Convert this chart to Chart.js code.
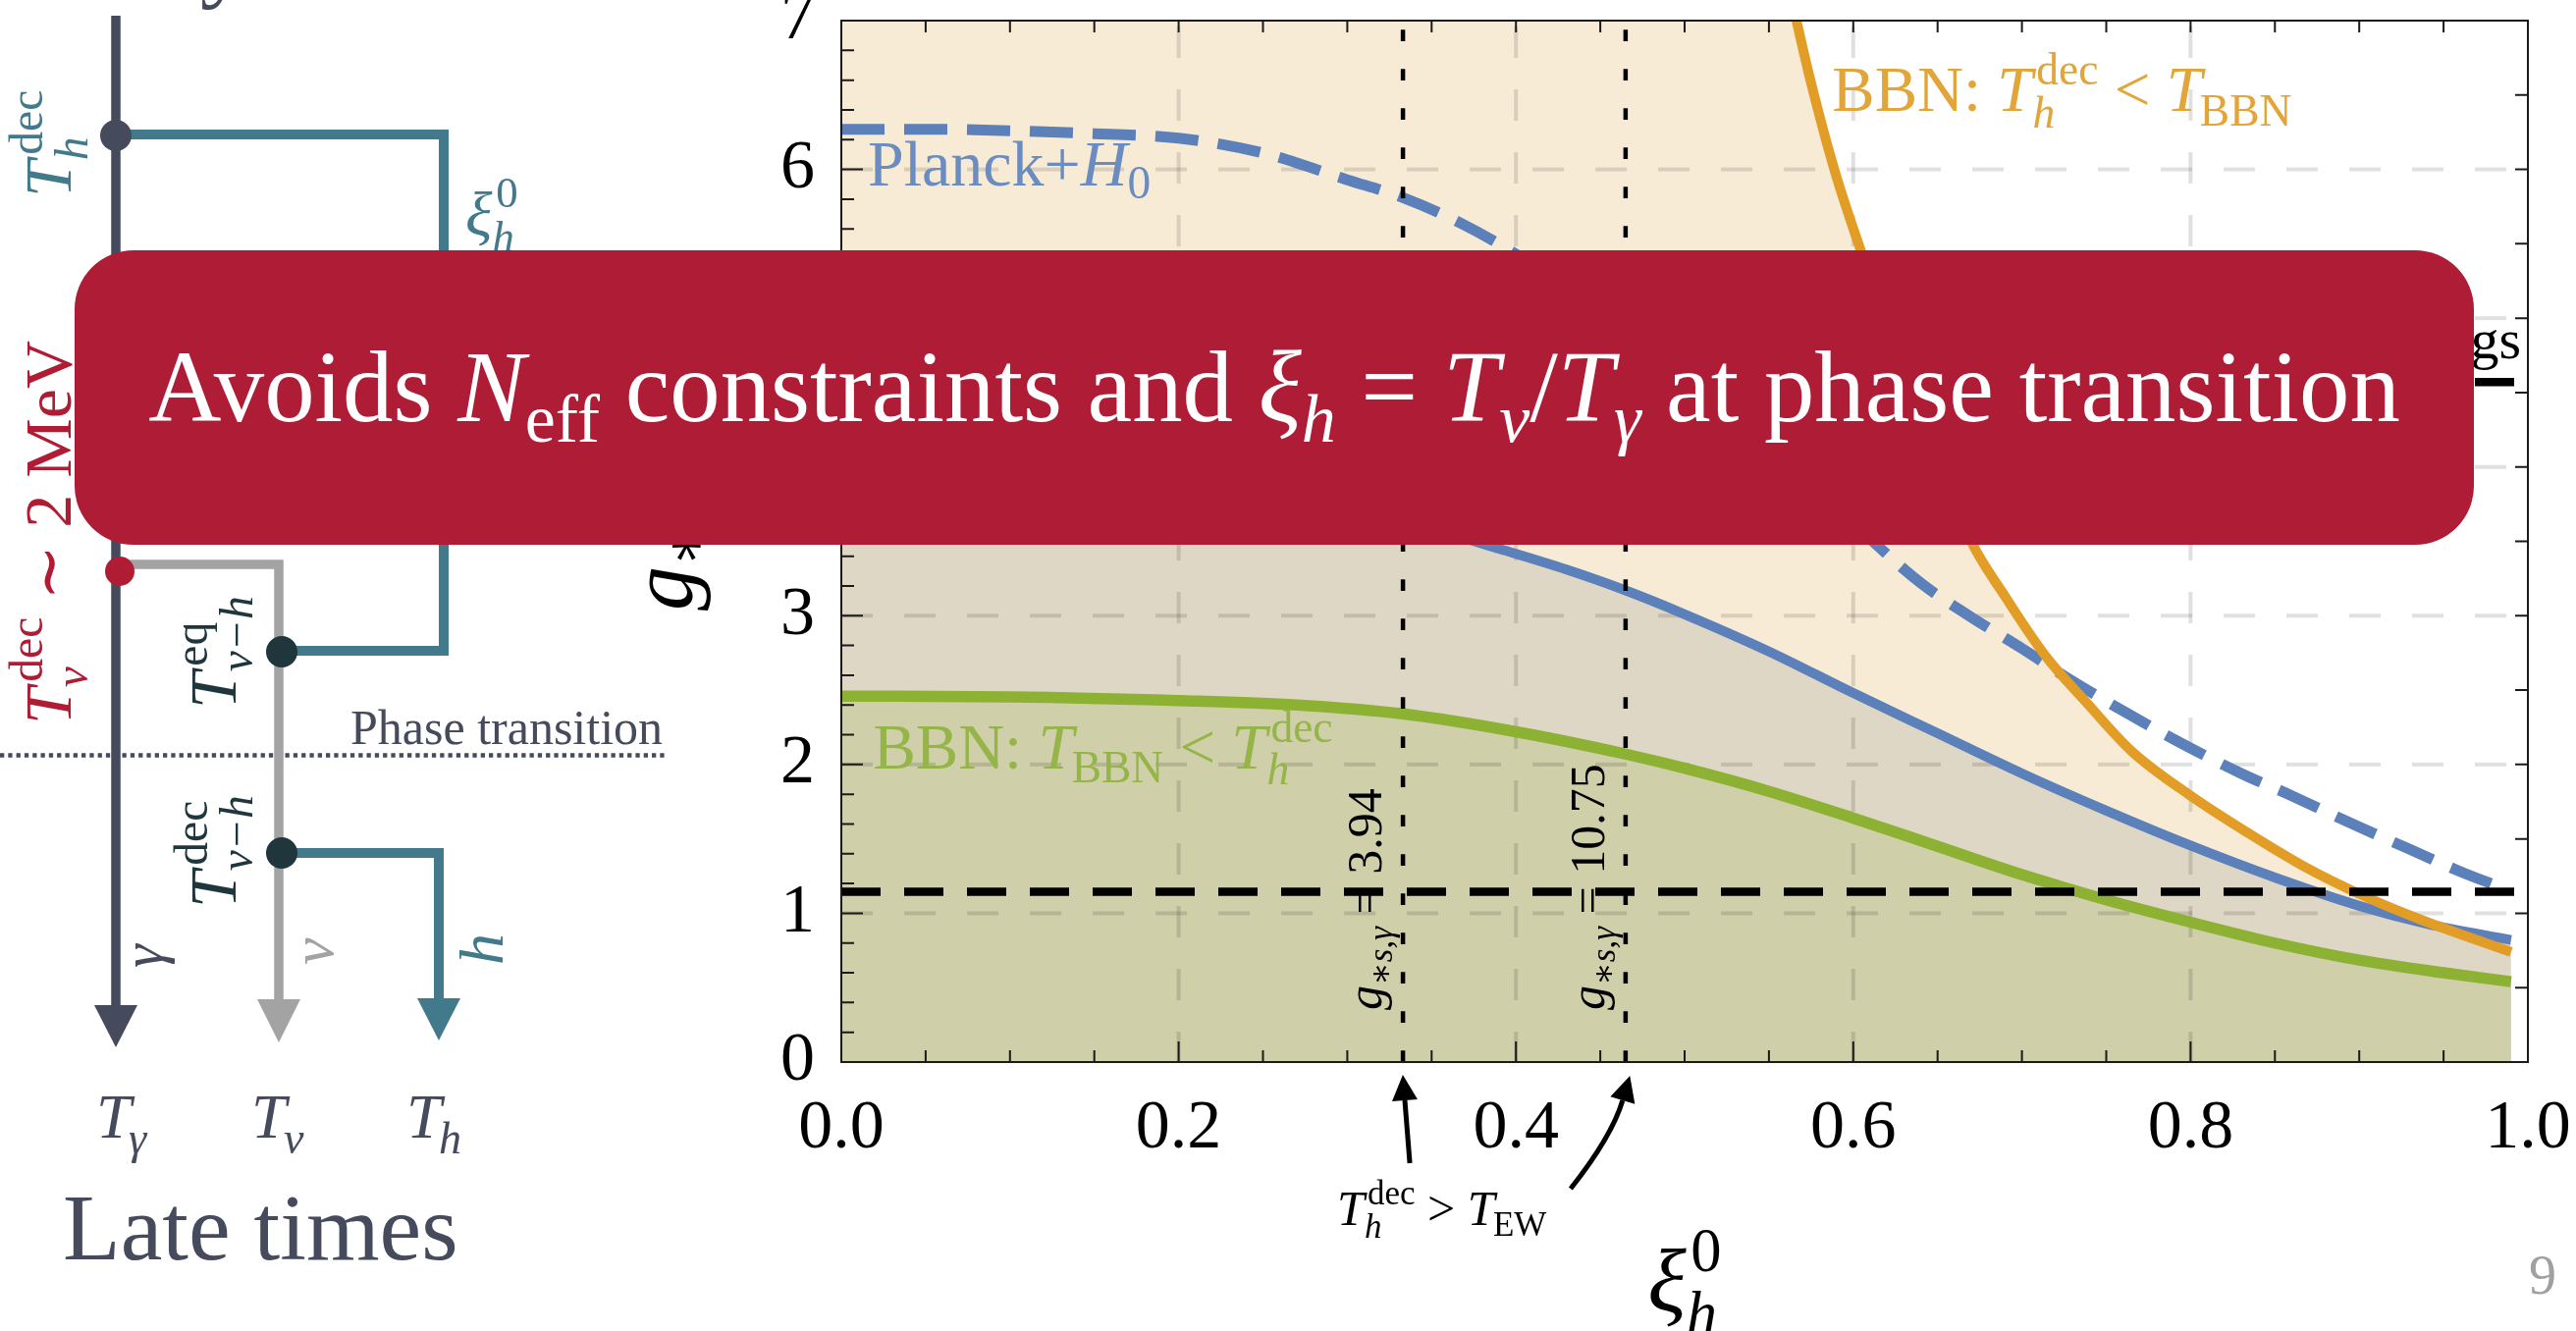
<!DOCTYPE html>
<html>
<head>
<meta charset="utf-8">
<script src="https://cdn.jsdelivr.net/npm/chart.js@4.4.1/dist/chart.umd.min.js"></script>
<style>
  html, body { margin: 0; padding: 0; background: #ffffff; }
  body { width: 2624px; height: 1356px; position: relative; overflow: hidden; }
  #wrap { position: absolute; left: 0; top: 0; width: 2624px; height: 1356px; }
  #callout {
    position: absolute; left: 76px; top: 255px; width: 2444px; height: 300px;
    background: #ae1c35; border-radius: 60px;
    display: flex; align-items: center; justify-content: center;
    color: #ffffff; font-family: "Liberation Serif", "DejaVu Serif", serif; white-space: nowrap;
  }
  #callout .t { display: inline-block; transform: translateY(-11px); }
  #callout i { font-style: italic; }
  #callout sub { font-size: 0.68em; vertical-align: -0.3em; line-height: 0; }
</style>
</head>
<body>
<div id="wrap"><canvas id="c"></canvas></div>
<div id="callout"><span class="t" id="calloutText">Avoids <i>N</i><sub>eff</sub> constraints and <i>ξ</i><sub><i>h</i></sub> = <i>T</i><sub><i>ν</i></sub>/<i>T</i><sub><i>γ</i></sub> at phase transition</span></div>
<script>
// ---- data: g_* bounds versus xi_h^0 ----
const xiTickValues = [0, 0.2, 0.4, 0.6, 0.8, 1.0];
const xiTickLabels = ['0.0', '0.2', '0.4', '0.6', '0.8', '1.0'];
const gTickValues = [0, 1, 2, 3, 4, 5, 6, 7];
const gTickLabels = ['0', '1', '2', '3', '4', '5', '6', '7'];

// Planck + H0 (dashed)
const planckH0Xi = [0, 0.05, 0.1, 0.15, 0.2, 0.25, 0.3, 0.333, 0.367, 0.4, 0.45, 0.5, 0.55, 0.6, 0.64, 0.67, 0.7, 0.73, 0.76, 0.79, 0.83, 0.86, 0.9, 0.93, 0.96, 0.985];
const planckH0G  = [6.27, 6.27, 6.26, 6.24, 6.21, 6.11, 5.93, 5.81, 5.64, 5.43, 5.05, 4.62, 4.15, 3.62, 3.22, 2.99, 2.78, 2.56, 2.36, 2.17, 1.94, 1.79, 1.58, 1.43, 1.28, 1.17];

// Planck (solid)
const planckXi = [0, 0.05, 0.1, 0.15, 0.2, 0.25, 0.3, 0.36, 0.39, 0.43, 0.465, 0.5, 0.55, 0.6, 0.65, 0.7, 0.75, 0.8, 0.85, 0.9, 0.94, 0.99];
const planckG  = [3.91, 3.91, 3.90, 3.89, 3.86, 3.80, 3.70, 3.55, 3.45, 3.31, 3.17, 3.01, 2.76, 2.48, 2.21, 1.94, 1.69, 1.455, 1.24, 1.05, 0.93, 0.82];

// BBN: T_h^dec < T_BBN (orange)
const bbnHighXi = [0.5655, 0.575, 0.589, 0.604, 0.62, 0.635, 0.65, 0.669, 0.69, 0.714, 0.738, 0.765, 0.8, 0.834, 0.868, 0.9, 0.937, 0.99];
const bbnHighG  = [7.04, 6.58, 5.99, 5.47, 4.97, 4.52, 4.08, 3.52, 3.13, 2.73, 2.42, 2.09, 1.79, 1.54, 1.31, 1.13, 0.955, 0.74];

// BBN: T_BBN < T_h^dec (green)
const bbnLowXi = [0, 0.1, 0.2, 0.27, 0.333, 0.4, 0.465, 0.5, 0.55, 0.6, 0.65, 0.7, 0.75, 0.8, 0.85, 0.9, 0.95, 0.99];
const bbnLowG  = [2.46, 2.455, 2.43, 2.40, 2.34, 2.22, 2.07, 1.975, 1.82, 1.64, 1.45, 1.26, 1.09, 0.94, 0.80, 0.685, 0.60, 0.54];

// reference levels and decoupling markers
const gRefLevels = [1.144, 4.57];
const decXi = [0.333, 0.465];
const decLabels = ['3.94', '10.75'];

const G_MAX = 7;
const XI_MAX = 1;

// ---- styling ----
const SERIF = '"Liberation Serif", "DejaVu Serif", "Times New Roman", serif';
const BLUE = '#5c80b9', ORANGE = '#e29d26', GREEN = '#8db133';
const SLATE = '#454a5d', TEAL = '#427a8c', DKTEAL = '#1f363d', RED = '#b01c34', GREY = '#a3a3a3';

// Rich text: parts = [text, italic, scale, dy(em), stackOnPrevious, dx(em)]
function rich(ctx, parts, x, y, size, color, align, rot) {
  ctx.save();
  ctx.translate(x, y);
  if (rot) ctx.rotate(rot);
  ctx.fillStyle = color;
  ctx.textBaseline = 'alphabetic';
  ctx.textAlign = 'left';
  const items = [];
  let cur = 0, prevStart = 0;
  for (const p of parts) {
    const t = p[0], it = p[1], sc = p[2] ?? 1, dy = p[3] ?? 0, stack = p[4] ?? false, dx = p[5] ?? 0;
    const font = (it ? 'italic ' : '') + (size * sc).toFixed(1) + 'px ' + SERIF;
    ctx.font = font;
    const w = ctx.measureText(t).width;
    const start = stack ? prevStart : cur;
    const sx = start + dx * size;
    items.push({ t, font, x: sx, y: dy * size });
    cur = Math.max(cur, sx + w);
    prevStart = start;
  }
  const off = align === 'center' ? -cur / 2 : align === 'right' ? -cur : 0;
  for (const it of items) { ctx.font = it.font; ctx.fillText(it.t, it.x + off, it.y); }
  ctx.restore();
  return cur;
}

function arrowHead(ctx, bx, by, ux, uy, len, hw, color) {
  const n = Math.hypot(ux, uy); ux /= n; uy /= n;
  const px = -uy, py = ux;
  ctx.beginPath();
  ctx.moveTo(bx + px * hw, by + py * hw);
  ctx.lineTo(bx - px * hw, by - py * hw);
  ctx.lineTo(bx + ux * len, by + uy * len);
  ctx.closePath();
  ctx.fillStyle = color;
  ctx.fill();
}

// Left-hand schematic of the temperature histories
function drawSchematic(ctx) {
  ctx.save();
  ctx.lineCap = 'butt';
  ctx.lineJoin = 'miter';
  const poly = (pts, color, w) => {
    ctx.beginPath();
    ctx.moveTo(pts[0][0], pts[0][1]);
    for (let i = 1; i < pts.length; i++) ctx.lineTo(pts[i][0], pts[i][1]);
    ctx.strokeStyle = color; ctx.lineWidth = w; ctx.stroke();
  };
  const dot = (x, y, r, color) => { ctx.beginPath(); ctx.arc(x, y, r, 0, Math.PI * 2); ctx.fillStyle = color; ctx.fill(); };

  ctx.setLineDash([4.3, 4]);
  poly([[0, 769.5], [679, 769.5]], SLATE, 4.5);
  ctx.setLineDash([]);

  poly([[118, 16], [118, 1026]], SLATE, 9.5);
  arrowHead(ctx, 118, 1024, 0, 1, 43, 22, SLATE);
  poly([[118, 137], [452, 137], [452, 663], [287, 663]], TEAL, 10);
  poly([[121, 575], [284, 575], [284, 1020]], GREY, 9.5);
  arrowHead(ctx, 284, 1018, 0, 1, 44, 22, GREY);
  poly([[287, 869], [447, 869], [447, 1019]], TEAL, 10);
  arrowHead(ctx, 447, 1017, 0, 1, 43, 22, TEAL);

  dot(118, 138, 16, SLATE);
  dot(287, 664, 16, DKTEAL);
  dot(287, 869, 16, DKTEAL);
  dot(122, 582, 15, RED);

  const up = -Math.PI / 2;
  rich(ctx, [['T', 1], ['dec', 0, 0.7, -0.42, 0, 0.08], ['h', 1, 0.7, 0.25, 1, 0]], 72, 201, 68, TEAL, 'left', up);
  rich(ctx, [['T', 1], ['dec', 0, 0.7, -0.42, 0, 0.08], ['ν', 1, 0.7, 0.25, 1, 0], [' ∼ 2 MeV', 0]], 72, 738, 68, RED, 'left', up);
  rich(ctx, [['T', 1], ['eq', 0, 0.7, -0.42, 0, 0.08], ['ν−h', 1, 0.7, 0.25, 1, 0]], 240, 722, 68, DKTEAL, 'left', up);
  rich(ctx, [['T', 1], ['dec', 0, 0.7, -0.42, 0, 0.08], ['ν−h', 1, 0.7, 0.25, 1, 0]], 240, 925, 68, DKTEAL, 'left', up);
  rich(ctx, [['γ', 1]], 165, 986, 60, SLATE, 'left', up);
  rich(ctx, [['ν', 1]], 339, 983, 62, GREY, 'left', up);
  rich(ctx, [['h', 1]], 512, 983, 64, TEAL, 'left', up);

  rich(ctx, [['ξ', 1], ['0', 0, 0.7, -0.45, 0, 0.06], ['h', 1, 0.7, 0.25, 1, 0]], 474, 240, 64, TEAL, 'left');

  rich(ctx, [['T', 1], ['γ', 1, 0.72, 0.25, 0, -0.04]], 98, 1159, 64, SLATE, 'left');
  rich(ctx, [['T', 1], ['ν', 1, 0.72, 0.25, 0, -0.04]], 256, 1159, 64, SLATE, 'left');
  rich(ctx, [['T', 1], ['h', 1, 0.72, 0.25, 0, -0.04]], 414, 1159, 64, SLATE, 'left');

  rich(ctx, [['Phase transition', 0]], 357, 758, 50, SLATE, 'left');
  rich(ctx, [['Late times', 0]], 64, 1283, 96, SLATE, 'left');
  rich(ctx, [['Early times', 0]], 264, -10, 96, SLATE, 'center');
  ctx.restore();
}

const toPts = (xs, ys, cap) => xs.map((x, i) => ({ x, y: cap === undefined ? ys[i] : Math.min(ys[i], cap) }));
const lineBase = { showLine: true, pointRadius: 0, pointHoverRadius: 0, fill: false, cubicInterpolationMode: 'monotone' };
const fillBase = { ...lineBase, borderWidth: 0, borderColor: 'rgba(0,0,0,0)', fill: 'origin' };

const datasets = [
  { ...fillBase, data: [{ x: 0, y: G_MAX }, ...toPts(bbnHighXi, bbnHighG, G_MAX)], backgroundColor: '#f8ebd6', order: 30 },
  { ...fillBase, data: toPts(planckXi, planckG), backgroundColor: '#ded7c5', order: 29 },
  { ...fillBase, data: toPts(bbnLowXi, bbnLowG), backgroundColor: '#cfcfaa', order: 28 },
  { ...lineBase, data: toPts(planckH0Xi, planckH0G), borderColor: BLUE, borderWidth: 11, borderDash: [44, 20], order: 10 },
  { ...lineBase, data: toPts(planckXi, planckG), borderColor: BLUE, borderWidth: 10, order: 9 },
  { ...lineBase, data: toPts(bbnHighXi, bbnHighG), borderColor: ORANGE, borderWidth: 10, order: 8 },
  { ...lineBase, data: toPts(bbnLowXi, bbnLowG), borderColor: GREEN, borderWidth: 11.5, order: 7 },
  ...decXi.map(v => ({ ...lineBase, cubicInterpolationMode: 'default', data: [{ x: v, y: 0 }, { x: v, y: G_MAX }], borderColor: '#000', borderWidth: 4.5, borderDash: [11.7, 28.3], order: 6 })),
  ...gRefLevels.map(v => ({ ...lineBase, cubicInterpolationMode: 'default', data: [{ x: 0, y: v }, { x: XI_MAX, y: v }], borderColor: '#000', borderWidth: 8.5, borderDash: [40, 24], order: 5 }))
];

// dashed grid drawn over the shaded regions
const gridPlugin = {
  id: 'dashGrid',
  beforeDatasetsDraw(chart) {
    const { ctx, chartArea: a, scales: { x: xs, y: ys } } = chart;
    ctx.save();
    ctx.strokeStyle = 'rgba(0,0,0,0.12)';
    ctx.lineWidth = 4;
    ctx.setLineDash([32, 32]);
    ctx.lineDashOffset = -6;
    xiTickValues.slice(1, -1).forEach(v => {
      const px = xs.getPixelForValue(v);
      ctx.beginPath(); ctx.moveTo(px, a.top); ctx.lineTo(px, a.bottom); ctx.stroke();
    });
    ctx.lineDashOffset = 0;
    gTickValues.slice(1, -1).forEach(v => {
      const py = ys.getPixelForValue(v);
      ctx.beginPath(); ctx.moveTo(a.left, py); ctx.lineTo(a.right, py); ctx.stroke();
    });
    ctx.restore();
  }
};

// frame, inward ticks and in-plot labels
const framePlugin = {
  id: 'frameLabels',
  afterDatasetsDraw(chart) {
    const { ctx, chartArea: a, scales: { x: xs, y: ys } } = chart;
    ctx.save();
    ctx.strokeStyle = '#1a1a1a';
    ctx.lineWidth = 2;
    ctx.setLineDash([]);
    ctx.strokeRect(a.left, a.top, a.right - a.left, a.bottom - a.top);
    ctx.beginPath();
    for (let k = 1; k < 20; k++) {
      const px = xs.getPixelForValue(k * 0.05);
      const len = k % 4 === 0 ? 21 : 12;
      ctx.moveTo(px, a.bottom); ctx.lineTo(px, a.bottom - len);
      ctx.moveTo(px, a.top); ctx.lineTo(px, a.top + 12);
    }
    for (let k = 1; k < 35; k++) {
      const py = ys.getPixelForValue(k * 0.2);
      const len = k % 5 === 0 ? 22 : 13;
      ctx.moveTo(a.left, py); ctx.lineTo(a.left + len, py);
    }
    for (let k = 1; k < 14; k++) {
      const py = ys.getPixelForValue(k * 0.5);
      ctx.moveTo(a.right, py); ctx.lineTo(a.right - 13, py);
    }
    ctx.stroke();
    ctx.restore();

    const X = v => xs.getPixelForValue(v), Y = v => ys.getPixelForValue(v);
    rich(ctx, [['Planck+', 0], ['H', 1], ['0', 0, 0.72, 0.2, 0, 0]], X(0.0157), Y(5.89), 66, '#6a8cc0', 'left');
    rich(ctx, [['Planck', 0]], X(0.0157), Y(3.49), 66, '#6a8cc0', 'left');
    rich(ctx, [['BBN: ', 0], ['T', 1], ['dec', 0, 0.7, -0.42, 0, 0.06], ['h', 1, 0.7, 0.25, 1, 0], [' < ', 0], ['T', 1], ['BBN', 0, 0.7, 0.22, 0, -0.03]], X(0.5875), Y(6.39), 65, '#e2a53a', 'left');
    rich(ctx, [['BBN: ', 0], ['T', 1], ['BBN', 0, 0.7, 0.22, 0, -0.03], [' < ', 0], ['T', 1], ['dec', 0, 0.7, -0.42, 0, 0.06], ['h', 1, 0.7, 0.25, 1, 0]], X(0.0189), Y(1.973), 65, '#96b548', 'left');
    rich(ctx, [['couplings', 0]], X(0.9959), Y(4.73), 58, '#000', 'right');
    decXi.forEach((v, i) => {
      rich(ctx, [['g', 1], ['∗', 0, 0.7, 0.22], ['s', 1, 0.7, 0.22], [',', 0, 0.7, 0.22], ['γ', 1, 0.7, 0.22], [' = ' + decLabels[i], 0]],
        X(v) - 22, Y(0.35), 50, '#000', 'left', -Math.PI / 2);
    });
  },
  afterDraw(chart) {
    const { ctx, chartArea: a, scales: { x: xs } } = chart;
    // axis titles
    rich(ctx, [['g', 1], ['∗', 0, 0.7, 0.15], ['h', 1, 0.7, 0.25]], a.left - 152, 622, 90, '#000', 'left', -Math.PI / 2);
    rich(ctx, [['ξ', 1], ['0', 0, 0.68, -0.45, 0, 0.05], ['h', 1, 0.68, 0.25, 1, 0]], (a.left + a.right) / 2, a.bottom + 254, 92, '#000', 'center');

    // annotation for the electroweak-scale decoupling markers
    const x1 = xs.getPixelForValue(decXi[0]);
    const x2 = xs.getPixelForValue(decXi[1]);
    ctx.save();
    ctx.strokeStyle = '#000';
    ctx.lineWidth = 5;
    ctx.lineCap = 'butt';
    ctx.beginPath(); ctx.moveTo(x1 + 7, a.bottom + 103); ctx.lineTo(x1 + 1.9, a.bottom + 39); ctx.stroke();
    arrowHead(ctx, x1 + 1.9, a.bottom + 39, -1.9, -24, 26, 13, '#000');
    ctx.beginPath(); ctx.moveTo(x2 - 56, a.bottom + 129);
    ctx.quadraticCurveTo(x2 - 14, a.bottom + 76, x2 - 3, a.bottom + 39); ctx.stroke();
    arrowHead(ctx, x2 - 3, a.bottom + 39, 11, -37, 26, 13, '#000');
    ctx.restore();
    rich(ctx, [['T', 1], ['dec', 0, 0.7, -0.42, 0, 0.06], ['h', 1, 0.7, 0.25, 1, 0], [' > ', 0], ['T', 1], ['EW', 0, 0.7, 0.22, 0, -0.03]], x1 - 67, a.bottom + 166, 50, '#000', 'left');

    drawSchematic(ctx);

    // slide number
    rich(ctx, [['9', 0]], 2590, 1318, 56, '#a0a0a0', 'center');
  }
};

new Chart(document.getElementById('c'), {
  type: 'scatter',
  data: { datasets },
  plugins: [gridPlugin, framePlugin],
  options: {
    responsive: true,
    maintainAspectRatio: false,
    animation: false,
    events: [],
    layout: { padding: { left: 700, top: 21, right: 49, bottom: 0 } },
    plugins: {
      legend: { display: false },
      tooltip: { enabled: false },
      filler: { drawTime: 'beforeDatasetsDraw' }
    },
    scales: {
      x: {
        type: 'linear', min: 0, max: XI_MAX,
        afterBuildTicks: s => { s.ticks = xiTickValues.map(v => ({ value: v })); },
        afterFit: s => { s.height = 274; s.paddingLeft = 0; s.paddingRight = 0; },
        ticks: { callback: (v, i) => xiTickLabels[i], font: { family: SERIF, size: 70 }, color: '#000', padding: 27, maxRotation: 0, autoSkip: false },
        grid: { display: false, drawTicks: false, tickLength: 0 },
        border: { display: false }
      },
      y: {
        type: 'linear', min: 0, max: G_MAX,
        afterBuildTicks: s => { s.ticks = gTickValues.map(v => ({ value: v })); },
        afterFit: s => { s.width = 157; s.paddingTop = 0; s.paddingBottom = 0; },
        ticks: { callback: (v, i) => gTickLabels[i], font: { family: SERIF, size: 70 }, color: '#000', padding: 27, autoSkip: false },
        grid: { display: false, drawTicks: false, tickLength: 0 },
        border: { display: false }
      }
    }
  }
});

// size the callout text to its measured span
const calloutText = document.getElementById('calloutText');
calloutText.style.fontSize = '100px';
const w0 = calloutText.getBoundingClientRect().width;
calloutText.style.fontSize = (100 * 2294 / w0).toFixed(2) + 'px';
</script>
</body>
</html>
